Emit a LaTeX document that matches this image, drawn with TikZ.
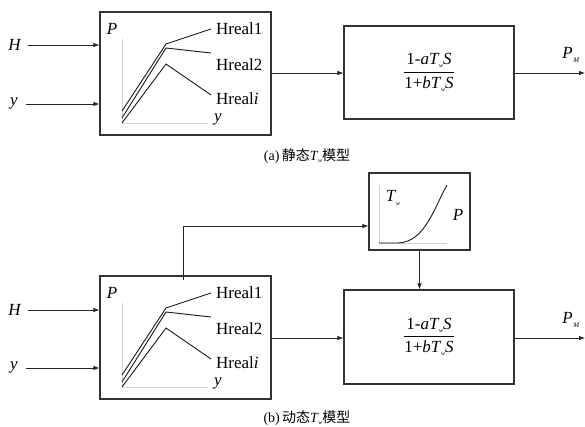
\documentclass[tikz,border=0pt]{standalone}
\usepackage{amsmath}
\usepackage{fontspec}
\setmainfont{Liberation Serif}
\newfontfamily\cjk{Noto Sans CJK SC}
\usetikzlibrary{arrows.meta}

\newcommand{\Tw}{\textit{T}\kern-0.3pt\raisebox{-0.4ex}{\fontsize{6}{6}\selectfont\textit{w}}}
\newcommand{\PM}{\textit{P}\kern0.5pt\raisebox{-0.45ex}{\fontsize{7}{7}\selectfont\textit{M}}}

\begin{document}
\begin{tikzpicture}[x=1pt, y=-1pt, >={Latex[length=6pt,width=4.5pt]},
  font=\fontsize{17}{19}\selectfont,
  blk/.style={draw=black!80, line width=1.1pt, inner sep=0pt},
  sig/.style={->, line width=0.8pt, black!85},
  axis/.style={black!18, line width=0.9pt},
  crv/.style={black!90, line width=0.9pt},
  lbl/.style={inner sep=0pt},
  captxt/.style={inner sep=0pt, font=\fontsize{14}{16}\selectfont}]
  \useasboundingbox (0,0) rectangle (585,426);

  % ============ (a) static model ============
  % 1. Blocks
  \node[blk, minimum width=171pt, minimum height=123pt] (lutA) at (185.5,73.5) {};
  \node[blk, minimum width=170pt, minimum height=93pt] (tfA) at (429,72.5)
    {$\displaystyle\frac{\text{1-\textit{a}\Tw\textit{S}}}{\text{1+\textit{b}\Tw\textit{S}}}$};

  % 2. Inputs
  \node[lbl] (inHA) at (15,45) {\textit{H}};
  \node[lbl] (inyA) at (14,103) {\textit{y}};
  \draw[sig] (inHA.east) ++(6,0) -- (inHA -| lutA.west);
  \draw[sig] (inyA.east |- 0,104) ++(8,0) -- (lutA.west |- 0,104);

  % 3. Hreal curves
  \draw[axis] (122,39) -- (122,123) -- (208,123);
  \draw[crv] (122,111) -- (166,44) -- (211,29);
  \draw[crv] (122,118) -- (166,48) -- (211,53);
  \draw[crv] (122,123) -- (166,64) -- (211,95);
  \node[lbl] (axPA) at (112,29) {\textit{P}};
  \node[lbl] (axyA) at (218,119) {\textit{y}};
  \node[lbl, anchor=west] (h1A) at (216,29) {Hreal1};
  \node[lbl, anchor=west] (h2A) at (216,65) {Hreal2};
  \node[lbl, anchor=west] (hiA) at (216,99) {Hreal\textit{i}};

  % 4. Connections and output
  \coordinate (outA) at (585,73);
  \draw[sig] (lutA.east |- outA) -- (tfA.west |- outA);
  \draw[sig] (tfA.east |- outA) -- (outA);
  \node[lbl] (pmA) at (571,55) {\PM};

  % 5. Caption
  \node[captxt] (capA) at (307,156) {(a)\,{\cjk 静态}\Tw{\cjk 模型}};

  % ============ (b) dynamic model ============
  % 1. Blocks
  \node[blk, minimum width=171pt, minimum height=123pt] (lutB) at (185.5,337.5) {};
  \node[blk, minimum width=170pt, minimum height=94pt] (tfB) at (429,337) 
    {$\displaystyle\frac{\text{1-\textit{a}\Tw\textit{S}}}{\text{1+\textit{b}\Tw\textit{S}}}$};
  \node[blk, minimum width=101pt, minimum height=77pt] (twB) at (419.5,211.5) {};

  % 2. Inputs
  \node[lbl] (inHB) at (15,310) {\textit{H}};
  \node[lbl] (inyB) at (14,367) {\textit{y}};
  \draw[sig] (inHB.east) ++(6,0) -- (inHB -| lutB.west);
  \draw[sig] (inyB.east |- 0,368) ++(8,0) -- (lutB.west |- 0,368);

  % 3. Hreal curves
  \draw[axis] (122,303) -- (122,387) -- (208,387);
  \draw[crv] (122,375) -- (166,308) -- (211,293);
  \draw[crv] (122,382) -- (166,312) -- (211,317);
  \draw[crv] (122,387) -- (166,328) -- (211,359);
  \node[lbl] (axPB) at (112,293) {\textit{P}};
  \node[lbl] (axyB) at (218,383) {\textit{y}};
  \node[lbl, anchor=west] (h1B) at (216,293) {Hreal1};
  \node[lbl, anchor=west] (h2B) at (216,329) {Hreal2};
  \node[lbl, anchor=west] (hiB) at (216,363) {Hreal\textit{i}};

  % 4. Tw(P) block
  \draw[axis] (379,185) -- (379,243) -- (447,243);
  \draw[crv] (379,243) -- (398,243) .. controls (425,242) and (434,208) .. (447,185);
  \node[lbl] (twlB) at (393,198) {\Tw};
  \node[lbl] (twPB) at (458,215) {\textit{P}};

  % 5. Connections and output
  \coordinate (tapB) at (183,280);
  \coordinate (outB) at (585,338);
  \draw[line width=0.8pt, black!85] (tapB) -- (183,226);
  \draw[sig] (183,226) -- (twB.west |- 0,226);
  \draw[sig] (twB.south) -- (twB.south |- tfB.north);
  \draw[sig] (lutB.east |- outB) -- (tfB.west |- outB);
  \draw[sig] (tfB.east |- outB) -- (outB);
  \node[lbl] (pmB) at (571,320) {\PM};

  % 6. Caption
  \node[captxt] (capB) at (307,418) {(b)\,{\cjk 动态}\Tw{\cjk 模型}};
\end{tikzpicture}
\end{document}
